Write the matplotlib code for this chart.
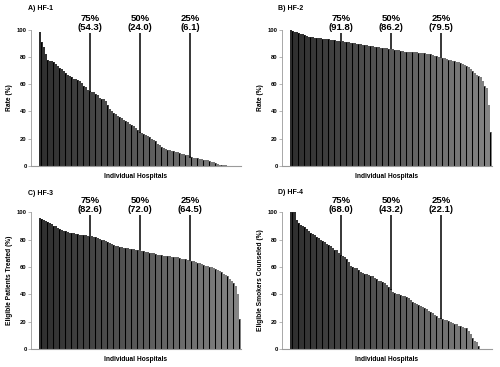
import matplotlib
matplotlib.use("Agg")
import matplotlib.pyplot as plt
import numpy as np

plt.rcParams['font.family'] = ['Liberation Sans', 'DejaVu Sans']
plt.rcParams['font.weight'] = 'bold'

# sorted hospital rates (%)
hf1 = [98, 91, 87, 82, 78, 77, 77, 76, 75, 73, 72, 71, 70, 68, 67, 66, 65, 64, 64, 63,
       62, 61, 59, 58, 56, 55, 54.3, 54, 53, 52, 50, 49, 49, 48, 45, 42, 40, 39, 38, 37,
       36, 35, 34, 33, 32, 31, 30, 29, 28, 26, 25, 24, 23.5, 23, 22, 21, 20, 19, 18, 16,
       15, 14, 13, 12.5, 12, 11.5, 11, 11, 10, 10, 9.5, 9, 8.5, 8, 8, 7, 6.5, 6, 6, 5.5,
       5, 5, 4.5, 4, 4, 3.5, 3, 2.5, 2, 1.5, 1, 1, 0.5, 0.5, 0, 0, 0, 0, 0, 0, 0]
hf2 = [100, 99, 98.5, 98, 97.5, 97, 96.5, 96, 95.5, 95, 95, 94.5, 94, 94, 93.8, 93.6, 93.5, 93.3, 93, 93,
       92.8, 92.5, 92.3, 92, 92, 91.8, 91.5, 91.2, 91, 90.8, 90.5, 90.3, 90, 89.8, 89.5, 89.3, 89, 88.8, 88.5, 88.2,
       88, 87.8, 87.5, 87.3, 87, 86.8, 86.6, 86.5, 86.3, 86.2, 86, 85.5, 85.2, 85, 84.8, 84.5, 84.2, 84, 83.8, 83.7,
       83.6, 83.5, 83.4, 83.3, 83.2, 83, 82.8, 82.6, 82.4, 82.2, 82, 81.5, 81, 80.5, 80, 79.6, 79.5, 79, 78.5, 78,
       77.5, 77.2, 77, 76.5, 76, 75.5, 75, 74, 73, 72.5, 71.5, 70, 68, 67, 66, 65, 62, 59, 57, 45, 25]
hf3 = [96, 95, 94.5, 93.5, 92.5, 92, 91, 90, 89.5, 88.5, 88, 87, 86.5, 86, 85.5, 85, 84.8, 84.5, 84, 83.8,
       83.5, 83.3, 83.2, 83, 82.8, 82.6, 82.3, 82, 81.5, 81, 80.5, 80, 79.5, 79, 78.5, 77.5, 77, 76, 75.5, 75,
       74.5, 74.2, 74, 73.7, 73.5, 73.2, 73, 72.7, 72.5, 72.2, 72, 71.8, 71.5, 71, 70.8, 70.5, 70.3, 70, 69.5, 69,
       68.8, 68.5, 68.2, 68, 67.8, 67.6, 67.5, 67.4, 67.2, 67, 66.5, 66, 65.8, 65.5, 65, 64.5, 64.2, 64, 63.5, 63,
       62.5, 62, 61.5, 61, 60.5, 60, 59.7, 59.3, 58.5, 57.5, 57, 56, 55, 54, 53, 51, 49.5, 48, 46, 40, 22]
hf4 = [100, 100, 100, 94, 92, 90.5, 89.5, 89, 87.5, 86.5, 85, 84, 83, 82, 81, 80, 79, 78.5, 77, 76,
       75, 73.5, 72.5, 72, 70, 68.5, 68, 67, 65.5, 63.5, 61, 60, 59.5, 59, 57.5, 56.5, 55.5, 55, 54.5, 54,
       53.5, 53, 52, 51, 50, 49.5, 49, 48, 47, 45.5, 43.5, 42, 41, 40.5, 40, 39.5, 39, 38.5, 38, 37,
       35.5, 34, 33.5, 33, 32.5, 31.5, 31, 30, 29, 28, 27, 26, 25, 24, 23, 22.5, 22, 21.5, 21, 20.5,
       20, 19, 18.5, 18, 17, 16.5, 16, 15.5, 15, 13.5, 11, 8, 6, 5, 2, 0, 0, 0, 0, 0, 0]

titles = ["A) HF-1", "B) HF-2", "C) HF-3", "D) HF-4"]
ylabels = ["Rate (%)", "Rate (%)", "Eligible Patients Treated (%)", "Eligible Smokers Counseled (%)"]
quartile_labels = ["75%", "50%", "25%"]
quartile_values = [[54.3, 24.0, 6.1], [91.8, 86.2, 79.5], [82.6, 72.0, 64.5], [68.0, 43.2, 22.1]]
quartile_pos = [25, 50, 75]

fig = plt.figure(figsize=(5, 3.67), dpi=100)
boxes = [[0.062, 0.548, 0.42, 0.371], [0.564, 0.548, 0.42, 0.371],
         [0.062, 0.049, 0.42, 0.373], [0.564, 0.049, 0.42, 0.373]]
title_xy = [(0.056, 0.986), (0.556, 0.986), (0.056, 0.482), (0.556, 0.485)]

for k, vals in enumerate([hf1, hf2, hf3, hf4]):
    ax = fig.add_axes(boxes[k])
    n = len(vals)
    x = np.arange(n)
    shade = np.linspace(0.18, 0.52, n)
    colors = [(s, s, s) for s in shade]
    ax.bar(x, vals, width=1.0, color=colors, linewidth=0)
    # dark separators between groups of bars
    sep = x[1::3]
    ax.vlines(sep - 0.5, 0, [vals[i] for i in sep], color='#000000', lw=0.75)

    for lab, q, p in zip(quartile_labels, quartile_values[k], quartile_pos):
        ax.plot([p, p], [q, 97.8], color='black', lw=1.1, clip_on=False, solid_capstyle='butt')
        ax.text(p, 98.6, f"{lab}\n({q:.1f})", ha='center', va='bottom', fontsize=6.8,
                fontweight='bold', linespacing=0.95, clip_on=False)

    ax.set_xlim(-4.5, n - 0.5)
    ax.set_ylim(0, 100)
    ax.set_yticks([0, 20, 40, 60, 80, 100])
    ax.set_xticks([])
    for s in ['top', 'right']:
        ax.spines[s].set_visible(False)
    ax.spines['left'].set_color('#9a9a9a')
    ax.spines['bottom'].set_color('#9a9a9a')
    ax.spines['left'].set_linewidth(0.6)
    ax.spines['bottom'].set_linewidth(0.8)
    ax.tick_params(axis='y', length=2, width=0.5, color='#9a9a9a', labelsize=4.2, pad=1)
    for t in ax.get_yticklabels():
        t.set_fontweight('bold')
    ax.set_ylabel(ylabels[k], fontsize=4.8, fontweight='bold', labelpad=3)
    ax.set_xlabel("Individual Hospitals", fontsize=4.8, fontweight='bold', labelpad=5)
    fig.text(title_xy[k][0], title_xy[k][1], titles[k], fontsize=5, fontweight='bold',
             ha='left', va='top')

fig.savefig("out.png", dpi=100)
